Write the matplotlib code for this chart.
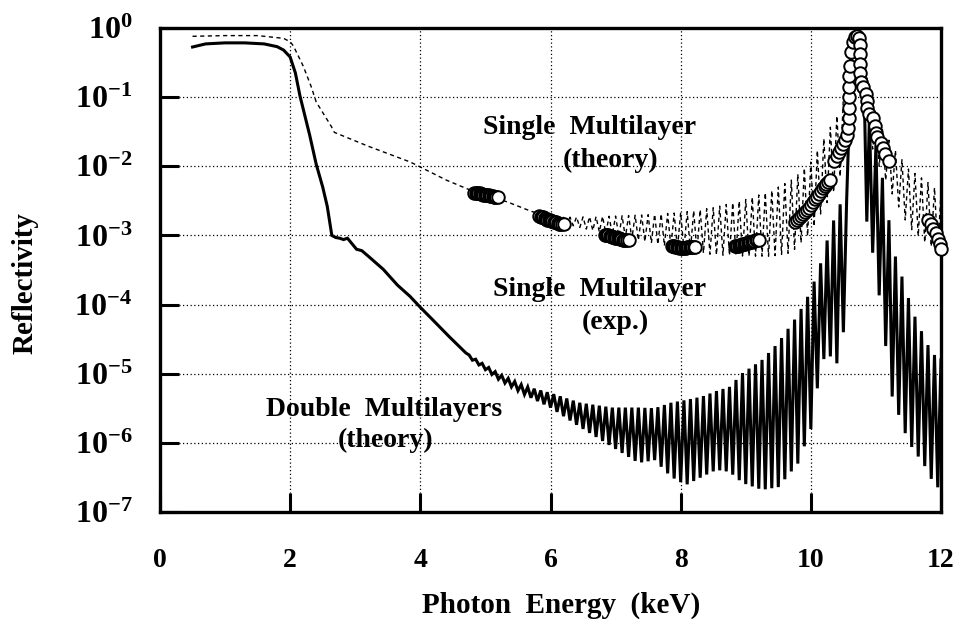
import numpy as np
import matplotlib
matplotlib.use("Agg")
import matplotlib.pyplot as plt

plt.rcParams['font.family'] = ['Liberation Serif', 'DejaVu Serif']
plt.rcParams['font.weight'] = 'bold'
plt.rcParams['mathtext.fontset'] = 'custom'
plt.rcParams['mathtext.rm'] = 'Liberation Serif:bold'
plt.rcParams['mathtext.it'] = 'Liberation Serif:bold'
plt.rcParams['mathtext.bf'] = 'Liberation Serif:bold'

# ---------------- data (log10 reflectivity) ----------------
# Double multilayers (theory) - smooth part
dbl_x = [0.5, 0.7, 1.0, 1.3, 1.6, 1.8, 1.9, 2.0, 2.08, 2.15, 2.3, 2.4, 2.5, 2.57, 2.64,
         2.70, 2.76, 2.82, 2.88, 2.95, 3.02, 3.1, 3.2, 3.43, 3.65, 3.84, 4.0, 4.2, 4.45, 4.7]
dbl_log = [-0.275, -0.23, -0.215, -0.215, -0.23, -0.27, -0.32, -0.42, -0.65, -0.98, -1.55,
           -1.97, -2.3, -2.58, -3.0, -3.03, -3.04, -3.06, -3.04, -3.12, -3.2, -3.22, -3.3,
           -3.49, -3.72, -3.88, -4.04, -4.23, -4.47, -4.7]
# fringe envelopes left of the Bragg peak
dbl_env_x = [4.75, 5.2, 5.6, 6.0, 6.45, 6.95, 7.35, 7.6, 7.85, 8.08, 8.33, 8.55, 8.75, 8.95,
             9.25, 9.5, 9.8, 10.0, 10.17, 10.3, 10.45, 10.55]
dbl_env_up = [-4.73, -5.0, -5.18, -5.28, -5.42, -5.49, -5.49, -5.5, -5.42, -5.38, -5.33, -5.25,
              -5.19, -4.99, -4.8, -4.55, -4.15, -3.8, -3.35, -2.9, -2.55, -2.5]
dbl_env_lo = [-4.77, -5.08, -5.3, -5.49, -5.77, -6.06, -6.29, -6.25, -6.49, -6.61, -6.49, -6.39,
              -6.42, -6.58, -6.68, -6.64, -6.3, -5.8, -4.8, -4.75, -4.9, -3.9]
# Bragg peak
dbl_pk_x = [10.58, 10.62, 10.66, 10.72, 10.78, 10.82, 10.86]
dbl_pk_log = [-1.6, -0.5, -0.17, -0.14, -0.2, -0.9, -2.8]
# fringe envelopes right of the Bragg peak
dbl_env2_x = [10.9, 11.0, 11.15, 11.25, 11.45, 11.55, 11.76, 11.86, 12.0]
dbl_env2_up = [-1.3, -1.7, -2.4, -3.16, -3.74, -4.07, -4.51, -4.7, -4.8]
dbl_env2_lo = [-3.0, -3.5, -4.6, -5.33, -5.86, -6.06, -6.35, -6.54, -6.7]

# Single multilayer (theory)
sgl_x = [0.5, 1.0, 1.5, 1.9, 2.0, 2.05, 2.2, 2.32, 2.4, 2.55, 2.63, 2.68, 3.2, 3.85, 4.4,
         4.73, 5.35, 5.7, 6.1]
sgl_log = [-0.12, -0.11, -0.11, -0.15, -0.2, -0.26, -0.55, -0.84, -1.07, -1.3, -1.42, -1.51,
           -1.71, -1.94, -2.2, -2.33, -2.52, -2.65, -2.76]
sgl_env_x = [6.1, 6.6, 7.0, 7.5, 8.0, 8.5, 9.0, 9.4, 9.7, 10.0, 10.2, 10.4, 10.5]
sgl_env_up = [-2.74, -2.73, -2.72, -2.70, -2.67, -2.6, -2.48, -2.35, -2.2, -1.94, -1.6, -1.27, -1.0]
sgl_env_lo = [-2.80, -2.92, -3.0, -3.1, -3.2, -3.28, -3.3, -3.3, -3.25, -2.96, -2.6, -2.3, -2.0]
sgl_pk_x = [10.58, 10.64, 10.7, 10.76, 10.82, 10.88]
sgl_pk_log = [-0.6, -0.15, -0.07, -0.1, -0.4, -0.85]
sgl_env2_x = [10.9, 11.0, 11.25, 11.5, 11.75, 12.0]
sgl_env2_up = [-0.9, -1.32, -1.7, -2.04, -2.2, -2.38]
sgl_env2_lo = [-1.6, -1.9, -2.4, -2.87, -3.1, -3.25]

fringe_period = 0.1  # keV

# Single multilayer (experiment) - measured points
exp_x = [
    4.83, 4.85, 4.87, 4.89, 4.91, 4.93, 4.95, 4.97, 4.99, 5.01, 5.03, 5.05, 5.07, 5.09, 5.11, 5.13, 5.15, 5.17, 5.20,
    5.83, 5.85, 5.87, 5.89, 5.91, 5.93, 5.95, 5.97, 5.99, 6.01, 6.03, 6.05, 6.07, 6.09, 6.11, 6.13, 6.15, 6.17, 6.20,
    6.83, 6.85, 6.87, 6.89, 6.91, 6.93, 6.95, 6.97, 6.99, 7.01, 7.03, 7.05, 7.07, 7.09, 7.11, 7.13, 7.15, 7.17, 7.20,
    7.86, 7.88, 7.90, 7.92, 7.94, 7.96, 7.98, 8.00, 8.02, 8.04, 8.06, 8.08, 8.10, 8.12, 8.14, 8.16, 8.18, 8.20, 8.22,
    8.83, 8.85, 8.87, 8.89, 8.91, 8.93, 8.95, 8.97, 8.99, 9.01, 9.03, 9.05, 9.07, 9.09, 9.11, 9.13, 9.15, 9.17, 9.20,
    9.76, 9.79, 9.82, 9.85, 9.88, 9.91, 9.94, 9.97, 10.00, 10.03, 10.06, 10.09, 10.12, 10.15, 10.18, 10.21, 10.24, 10.27, 10.30,
    10.36, 10.40, 10.44, 10.47, 10.49, 10.52, 10.55, 10.57, 10.58, 10.58, 10.58, 10.59, 10.59,
    10.60, 10.62, 10.65, 10.68, 10.71, 10.74, 10.75, 10.75, 10.76, 10.76, 10.77, 10.80, 10.84,
    10.86, 10.87, 10.90, 10.95, 10.98, 11.00, 11.02, 11.08, 11.11, 11.14, 11.20,
    11.80, 11.84, 11.88, 11.92, 11.95, 11.98, 12.00]
exp_log = [
    -2.38, -2.38, -2.38, -2.39, -2.39, -2.40, -2.40, -2.41, -2.41, -2.41, -2.42, -2.42, -2.43, -2.43, -2.43, -2.44, -2.44, -2.45, -2.45,
    -2.72, -2.73, -2.74, -2.74, -2.75, -2.76, -2.77, -2.77, -2.78, -2.79, -2.79, -2.80, -2.81, -2.81, -2.82, -2.83, -2.83, -2.84, -2.84,
    -2.99, -2.99, -3.00, -3.00, -3.01, -3.01, -3.02, -3.02, -3.03, -3.03, -3.04, -3.04, -3.05, -3.05, -3.06, -3.06, -3.07, -3.07, -3.07,
    -3.16, -3.16, -3.16, -3.17, -3.17, -3.17, -3.18, -3.18, -3.18, -3.18, -3.18, -3.18, -3.17, -3.17, -3.17, -3.17, -3.17, -3.17, -3.17,
    -3.16, -3.16, -3.15, -3.15, -3.14, -3.14, -3.13, -3.13, -3.12, -3.11, -3.11, -3.10, -3.10, -3.09, -3.08, -3.08, -3.07, -3.07, -3.06,
    -2.80, -2.78, -2.75, -2.72, -2.69, -2.66, -2.63, -2.60, -2.56, -2.52, -2.48, -2.44, -2.40, -2.36, -2.32, -2.29, -2.26, -2.23, -2.20,
    -1.93, -1.85, -1.80, -1.74, -1.68, -1.62, -1.55, -1.45, -1.30, -1.15, -1.00, -0.85, -0.70,
    -0.55, -0.35, -0.20, -0.13, -0.12, -0.14, -0.25, -0.38, -0.52, -0.65, -0.78, -0.85, -0.95,
    -1.05, -1.15, -1.25, -1.30, -1.42, -1.52, -1.58, -1.66, -1.74, -1.82, -1.93,
    -2.78, -2.84, -2.90, -2.97, -3.05, -3.12, -3.20]

y_tick_vals = [1e0, 1e-1, 1e-2, 1e-3, 1e-4, 1e-5, 1e-6, 1e-7]
y_tick_labels = [r'$10^{0}$', r'$10^{-1}$', r'$10^{-2}$', r'$10^{-3}$', r'$10^{-4}$',
                 r'$10^{-5}$', r'$10^{-6}$', r'$10^{-7}$']
x_tick_vals = [0, 2, 4, 6, 8, 10, 12]
x_tick_labels = ['0', '2', '4', '6', '8', '10', '12']


def fringes(xe, up, lo, period):
    xs = np.arange(xe[0], xe[-1] + 1e-9, period / 2.0)
    u = np.interp(xs, xe, up)
    l = np.interp(xs, xe, lo)
    ys = np.where(np.arange(len(xs)) % 2 == 0, u, l)
    return xs, ys


def build(sx, slog, ex, eu, el, px, plog, ex2, eu2, el2):
    f1x, f1y = fringes(ex, eu, el, fringe_period)
    f2x, f2y = fringes(ex2, eu2, el2, fringe_period)
    x = np.concatenate([sx, f1x, px, f2x])
    y = np.concatenate([slog, f1y, plog, f2y])
    return x, 10.0 ** y


dx, dy = build(dbl_x, dbl_log, dbl_env_x, dbl_env_up, dbl_env_lo, dbl_pk_x, dbl_pk_log,
               dbl_env2_x, dbl_env2_up, dbl_env2_lo)
sx, sy = build(sgl_x, sgl_log, sgl_env_x, sgl_env_up, sgl_env_lo, sgl_pk_x, sgl_pk_log,
               sgl_env2_x, sgl_env2_up, sgl_env2_lo)

# ---------------- figure ----------------
fig = plt.figure(figsize=(9.61, 6.19), dpi=100)
ax = fig.add_axes([160 / 961, 1 - 512 / 619, 781 / 961, 484 / 619])
ax.set_yscale('log')
ax.set_xlim(0, 12)
ax.set_ylim(1e-7, 1e0)

ax.plot(sx, sy, color='black', lw=1.0, linestyle=(0, (3, 2.5)), zorder=3)
ax.plot(dx, dy, color='black', lw=2.2, zorder=4, solid_joinstyle='miter')
ax.plot(exp_x, 10.0 ** np.array(exp_log), linestyle='none', marker='o', markersize=9,
        markerfacecolor='white', markeredgecolor='black', markeredgewidth=1.4,
        zorder=5, clip_on=False)

ax.set_xticks(x_tick_vals, x_tick_labels)
ax.set_yticks(y_tick_vals, y_tick_labels)
ax.yaxis.set_minor_locator(matplotlib.ticker.NullLocator())
ax.tick_params(axis='both', direction='in', length=14, width=2.2, color='black')
ax.tick_params(axis='x', labelsize=20, pad=26)
ax.tick_params(axis='y', labelsize=23, pad=20)
for lab in ax.get_xticklabels() + ax.get_yticklabels():
    lab.set_fontweight('bold')

ax.grid(True, which='major', color='black', linestyle=(0, (1, 2)), lw=0.9)
for s in ax.spines.values():
    s.set_linewidth(2.4)

ax.set_xlabel('Photon  Energy  (keV)', fontsize=21, fontweight='bold')
ax.xaxis.set_label_coords((561 - 160) / 781, (512 - 605) / 484)
ax.xaxis.label.set_va('center')
ax.set_ylabel('Reflectivity', fontsize=21, fontweight='bold')
ax.yaxis.set_label_coords((25 - 160) / 781, (512 - 283) / 484)
ax.yaxis.label.set_va('center')


def ptext(px, py, s):
    fig.text(px / 961, 1 - py / 619, s, ha='center', va='center', fontsize=20,
             fontweight='bold', zorder=6)


ptext(590, 127, 'Single  Multilayer')
ptext(611, 160, '(theory)')
ptext(600, 290, 'Single  Multilayer')
ptext(615, 322, '(exp.)')
ptext(384, 410, 'Double  Multilayers')
ptext(386, 440, '(theory)')

fig.savefig('out.png', dpi=100)
